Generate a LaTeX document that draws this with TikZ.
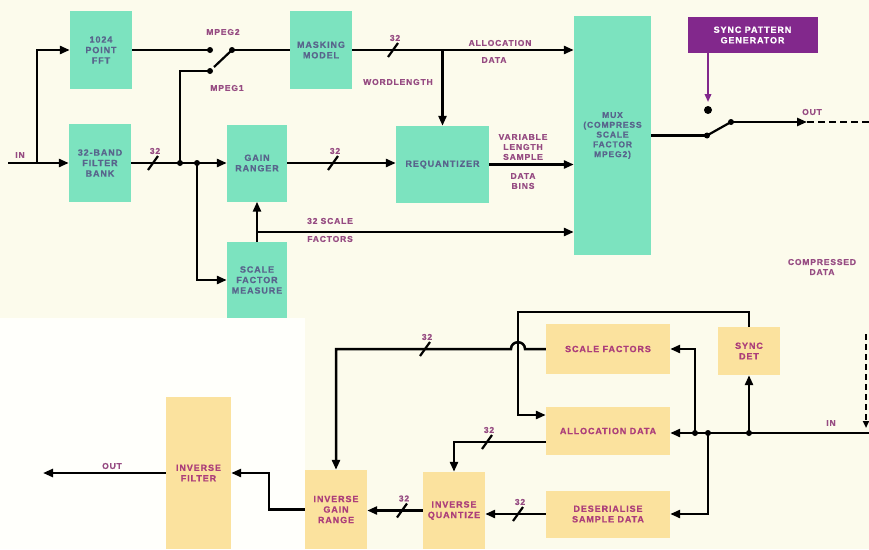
\documentclass[tikz,border=0pt]{standalone}
\usepackage{fontspec}
\newfontfamily\labfont[LetterSpace=10, BoldFeatures={FakeBold=0.8}]{Liberation Sans}
\usetikzlibrary{arrows.meta}
\definecolor{bgcream}{RGB}{252,251,236}
\definecolor{bgwhite}{RGB}{255,255,251}
\definecolor{mint}{RGB}{124,227,191}
\definecolor{gtext}{RGB}{88,100,140}
\definecolor{ybox}{RGB}{251,226,158}
\definecolor{ytext}{RGB}{172,62,122}
\definecolor{labcol}{RGB}{150,75,130}
\definecolor{spgcol}{RGB}{130,40,140}
\newcommand\busmark[3][32]{%
  \draw[line width=2.2pt] (#2-5,#3+7) -- (#2+5,#3-7);
  \node[lab] at (#2+2,#3-12) {#1};}
\begin{document}
\begin{tikzpicture}[x=1pt,y=-1pt,
  boxfont/.style={font=\labfont\bfseries\fontsize{9}{10.5}\selectfont},
  gbox/.style={boxfont, fill=mint, text=gtext, align=center, inner sep=0pt, draw=none},
  yelbox/.style={boxfont, fill=ybox, text=ytext, align=center, inner sep=0pt, draw=none},
  lab/.style={font=\labfont\bfseries\fontsize{8.5}{10}\selectfont, text=labcol, inner sep=0pt, align=center},
  wire/.style={line width=2.5pt},
  sig/.style={line width=2.5pt, -{Triangle[length=10pt,width=8pt]}},
  jdot/.style={fill=black}]
\useasboundingbox (0,0) rectangle (869,549);
\fill[bgcream] (0,0) rectangle (869,549);
\fill[bgwhite] (0,318) rectangle (305,549);

% ---------- top: encoder ----------
\node[gbox, minimum width=62pt, minimum height=78pt] (fft) at (101,50) {1024\\POINT\\FFT};
\node[gbox, minimum width=62pt, minimum height=78pt] (fb) at (100,163) {32-BAND\\FILTER\\BANK};
\node[gbox, minimum width=60pt, minimum height=77pt] (gr) at (257,163) {GAIN\\RANGER};
\node[gbox, minimum width=60pt, minimum height=76pt] (sfm) at (257,280) {SCALE\\FACTOR\\MEASURE};
\node[gbox, minimum width=62pt, minimum height=78pt] (mm) at (321,50) {MASKING\\MODEL};
\node[gbox, minimum width=93pt, minimum height=77pt] (rq) at (442.5,164.5) {REQUANTIZER};
\node[gbox, minimum width=77pt, minimum height=239pt, font=\labfont\bfseries\fontsize{8.5}{9.8}\selectfont] (mux) at (612.5,135.5) {MUX\\(COMPRESS\\SCALE\\FACTOR\\MPEG2)};
\node[boxfont, fill=spgcol, text=white, align=center, inner sep=0pt, minimum width=130pt, minimum height=36pt] (spg) at (752.5,35) {SYNC PATTERN\\GENERATOR};

\coordinate (inT) at (8,163);
\coordinate (brIn) at (37,163);
\draw[sig] (inT) -- (fb.west);
\draw[sig] (brIn) |- (fft.west);
\node[lab] at (20,155) {IN};

\coordinate (m2) at (210,50);
\coordinate (m1) at (210,71);
\coordinate (pv) at (232,50);
\draw[wire] (fft.east) -- (m2);
\draw[wire] (pv) -- (mm.west);
\draw[line width=2.2pt] (pv) -- (214,67);
\fill[jdot] (m2) circle (3);
\fill[jdot] (m1) circle (3);
\fill[jdot] (pv) circle (3);
\node[lab] at (223,32) {MPEG2};
\node[lab] at (227,88) {MPEG1};

\coordinate (j1) at (180,163);
\coordinate (j2) at (197,163);
\draw[sig] (fb.east) -- (gr.west);
\draw[wire] (j1) |- (m1);
\draw[sig] (j2) |- (sfm.west);
\fill[jdot] (j1) circle (3);
\fill[jdot] (j2) circle (3);
\busmark{153}{163}

\draw[sig] (gr.east) -- (rq.west |- gr.east);
\busmark{333}{163}

\coordinate (wl) at (rq.north |- mm.east);
\draw[sig] (mm.east) -- (mux.west |- mm.east);
\draw[sig] (wl) -- (rq.north);
\busmark{393}{50}
\node[lab] at (500,43) {ALLOCATION};
\node[lab] at (494,60) {DATA};
\node[lab] at (398,82) {WORDLENGTH};

\draw[sig] (rq.east) -- (mux.west |- rq.east);
\node[lab] at (523,147) {VARIABLE\\LENGTH\\SAMPLE};
\node[lab] at (523,181) {DATA\\BINS};

\coordinate (sfb) at (sfm.north |- 0,232);
\draw[sig] (sfm.north) -- (gr.south);
\draw[sig] (sfb) -- (mux.west |- sfb);
\node[lab] at (330,221) {32 SCALE};
\node[lab] at (330,239) {FACTORS};

\coordinate (sw1) at (707,135.5);
\coordinate (sw2) at (731,122);
\coordinate (outT) at (807,122);
\coordinate (edgeT) at (869,122);
\coordinate (syc) at (708,110);
\coordinate (spgA) at (spg.south -| syc);
\coordinate (spgB) at (708,102);
\draw[wire] (mux.east) -- (sw1);
\draw[line width=2.2pt] (sw1) -- (sw2);
\draw[sig] (sw2) -- (outT);
\draw[line width=2.5pt, dash pattern=on 7pt off 4pt] (outT) -- (edgeT);
\fill[jdot] (sw1) circle (3);
\fill[jdot] (sw2) circle (3);
\fill[jdot] (syc) circle (4);
\draw[line width=1.8pt, draw=spgcol, -{Triangle[length=8pt,width=6.5pt]}, spgcol] (spgA) -- (spgB);
\node[lab] at (812,112) {OUT};
\node[lab] at (822,267) {COMPRESSED\\DATA};

% ---------- bottom: decoder ----------
\node[yelbox, minimum width=65pt, minimum height=152pt] (ifl) at (198.5,473) {INVERSE\\FILTER};
\node[yelbox, minimum width=62pt, minimum height=79pt] (igr) at (336,509.5) {INVERSE\\GAIN\\RANGE};
\node[yelbox, minimum width=62pt, minimum height=77pt] (iq) at (454,510.5) {INVERSE\\QUANTIZE};
\node[yelbox, minimum width=124pt, minimum height=50pt] (sf) at (608,349) {SCALE FACTORS};
\node[yelbox, minimum width=124pt, minimum height=48pt] (ad) at (608,431) {ALLOCATION DATA};
\node[yelbox, minimum width=124pt, minimum height=47pt] (ds) at (608,514) {DESERIALISE\\SAMPLE DATA};
\node[yelbox, minimum width=62pt, minimum height=48pt] (sd) at (749,351) {SYNC\\DET};

\coordinate (inB) at (869,433);
\coordinate (jb1) at (695,433);
\coordinate (jb2) at (708,433);
\coordinate (jb3) at (749,433);
\draw[sig] (inB) -- (ad.east |- inB);
\draw[sig] (jb3) -- (sd.south);
\draw[sig] (jb1) |- (sf.east);
\draw[sig] (jb2) |- (ds.east);
\fill[jdot] (jb1) circle (3);
\fill[jdot] (jb2) circle (3);
\fill[jdot] (jb3) circle (3);
\node[lab] at (831,423) {IN};
\coordinate (rdA) at (866,334);
\coordinate (rdB) at (866,428);
\draw[line width=2.5pt, dash pattern=on 6pt off 4pt, -{Triangle[length=7pt,width=6pt]}] (rdA) -- (rdB);

\coordinate (c1) at (749,312);
\coordinate (c2) at (518,312);
\coordinate (c3) at (518,415);
\draw[sig] (sd.north) -- (c1) -- (c2) -- (c3) -- (ad.west |- c3);

\coordinate (hopR) at (525,349);
\coordinate (hopL) at (511,349);
\draw[sig] (sf.west) -- (hopR) .. controls (525,340) and (511,340) .. (hopL) -- (igr.north |- sf.west) -- (igr.north);
\busmark{425}{349}

\coordinate (adl) at (546,442);
\draw[sig] (adl) -- (iq.north |- adl) -- (iq.north);
\busmark{487}{442}

\draw[sig] (ds.west) -- (iq.east |- ds.west);
\busmark{518}{514}

\draw[sig] (iq.west) -- (igr.east |- iq.west);
\busmark{402}{510.5}

\coordinate (k1) at (269,509.5);
\coordinate (k2) at (269,473);
\draw[sig] (igr.west) -- (k1) -- (k2) -- (ifl.east);

\coordinate (outB) at (43,473);
\draw[sig] (ifl.west) -- (outB);
\node[lab] at (112,466) {OUT};
\end{tikzpicture}
\end{document}
